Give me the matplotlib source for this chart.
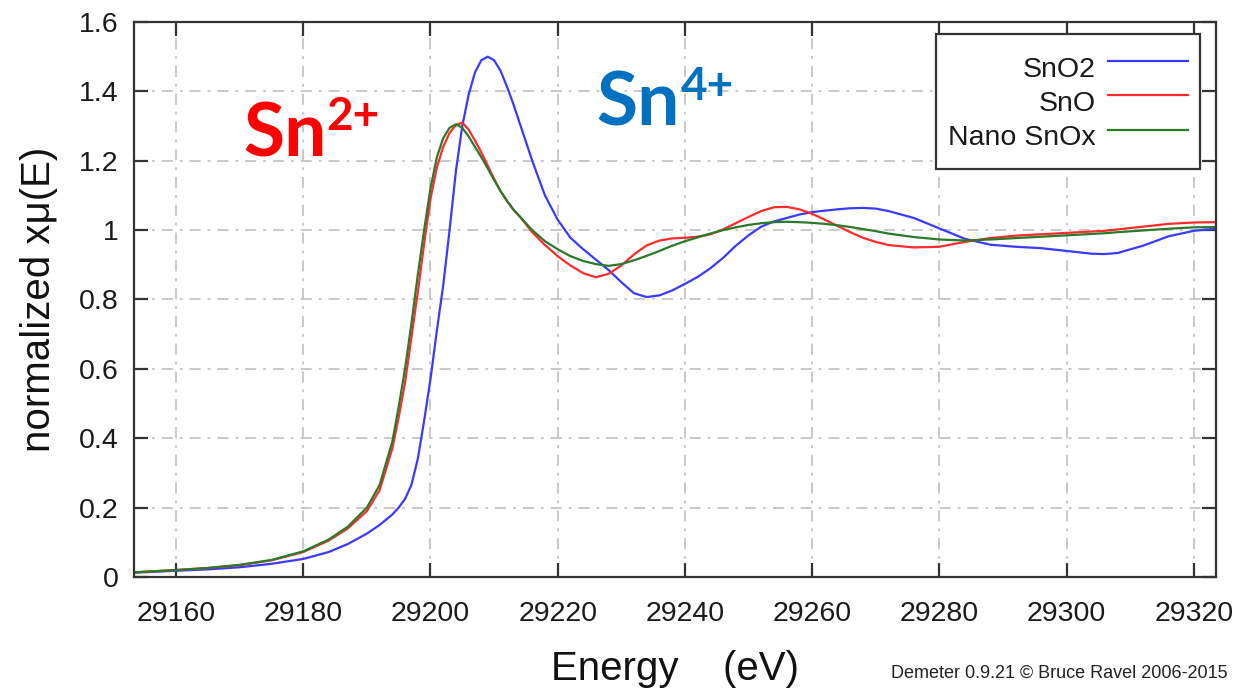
import matplotlib
matplotlib.use("Agg")
import matplotlib.pyplot as plt

# Sn K-edge XANES, normalized absorption
energy = [29153, 29160, 29165, 29170, 29175, 29180, 29184, 29187, 29190, 29192,
          29194, 29195, 29196, 29197, 29198, 29199, 29200, 29201, 29202, 29203,
          29204, 29205, 29206, 29207, 29208, 29209, 29210, 29211, 29212, 29213,
          29214, 29216, 29218, 29220, 29222, 29224, 29226, 29228, 29230, 29232,
          29234, 29236, 29238, 29240, 29242, 29244, 29246, 29248, 29250, 29252,
          29254, 29256, 29258, 29260, 29262, 29264, 29266, 29268, 29270, 29272,
          29276, 29280, 29284, 29288, 29292, 29296, 29300, 29304, 29306, 29308,
          29312, 29316, 29320, 29324]

sno2 = [0.012, 0.018, 0.022, 0.028, 0.038, 0.052, 0.072, 0.095, 0.125, 0.15,
        0.18, 0.2, 0.225, 0.265, 0.34, 0.45, 0.57, 0.71, 0.84, 1.0,
        1.17, 1.30, 1.39, 1.455, 1.49, 1.50, 1.49, 1.46, 1.415, 1.365,
        1.31, 1.20, 1.10, 1.03, 0.978, 0.945, 0.915, 0.885, 0.85, 0.818,
        0.807, 0.812, 0.826, 0.845, 0.865, 0.89, 0.92, 0.955, 0.985, 1.01,
        1.025, 1.035, 1.045, 1.052, 1.056, 1.06, 1.063, 1.064, 1.062, 1.055,
        1.035, 1.005, 0.975, 0.958, 0.952, 0.948, 0.94, 0.932, 0.931, 0.934,
        0.955, 0.982, 0.998, 1.005]

sno = [0.013, 0.02, 0.026, 0.034, 0.048, 0.072, 0.105, 0.14, 0.19, 0.25,
       0.37, 0.46, 0.56, 0.69, 0.82, 0.96, 1.09, 1.18, 1.24, 1.28,
       1.303, 1.31, 1.29, 1.258, 1.224, 1.186, 1.148, 1.113, 1.085, 1.06,
       1.04, 0.994, 0.957, 0.925, 0.898, 0.876, 0.864, 0.874, 0.898, 0.93,
       0.956, 0.97, 0.976, 0.978, 0.981, 0.988, 1.002, 1.02, 1.038, 1.055,
       1.066, 1.067, 1.06, 1.047, 1.03, 1.012, 0.994, 0.978, 0.966, 0.957,
       0.95, 0.952, 0.966, 0.977, 0.984, 0.988, 0.992, 0.996, 0.998, 1.002,
       1.01, 1.018, 1.022, 1.023]

nano_snox = [0.013, 0.02, 0.026, 0.035, 0.049, 0.074, 0.108, 0.145, 0.2, 0.265,
             0.39, 0.49, 0.6, 0.73, 0.87, 1.0, 1.12, 1.21, 1.265, 1.295,
             1.305, 1.295, 1.27, 1.24, 1.21, 1.178, 1.145, 1.113, 1.085, 1.06,
             1.04, 1.0, 0.968, 0.945, 0.925, 0.911, 0.902, 0.897, 0.902, 0.913,
             0.926, 0.94, 0.955, 0.968, 0.979, 0.99, 1.0, 1.008, 1.015, 1.02,
             1.023, 1.024, 1.023, 1.021, 1.018, 1.014, 1.009, 1.003, 0.997, 0.99,
             0.98, 0.973, 0.97, 0.973, 0.977, 0.981, 0.985, 0.989, 0.991, 0.994,
             0.999, 1.004, 1.008, 1.009]

series_names = ["SnO2", "SnO", "Nano SnOx"]
series_colors = ["#3a3aff", "#ff2a2a", "#2a7a2a"]

xticks = [29160, 29180, 29200, 29220, 29240, 29260, 29280, 29300, 29320]
yticks = [0, 0.2, 0.4, 0.6, 0.8, 1.0, 1.2, 1.4, 1.6]
ytick_labels = ["0", "0.2", "0.4", "0.6", "0.8", "1", "1.2", "1.4", "1.6"]

plt.rcParams["font.family"] = ["Liberation Sans", "DejaVu Sans"]
plt.rcParams["lines.scale_dashes"] = False

fig = plt.figure(figsize=(12.4, 6.92), dpi=100)
ax = fig.add_axes([0.1081, 0.1662, 0.8726, 0.8020])

for vals, name, col in zip([sno2, sno, nano_snox], series_names, series_colors):
    ax.plot(energy, vals, color=col, linewidth=1.6, label=name)

ax.set_xlim(29153.4, 29323.5)
ax.set_ylim(0, 1.6)
ax.set_xticks(xticks)
ax.set_xticklabels([str(t) for t in xticks])
ax.set_yticks(yticks)
ax.set_yticklabels(ytick_labels)

ax.grid(True, color="#c4c4c4", linewidth=1.3, linestyle=(0, (8, 5, 2, 5)))
ax.set_axisbelow(True)

for sp in ax.spines.values():
    sp.set_color("#333333")
    sp.set_linewidth(1.6)

ax.tick_params(axis="both", direction="in", length=10, width=1.6, color="#333333",
               labelsize=20.5, labelcolor="#1a1a1a", top=True, right=True)
ax.tick_params(axis="x", pad=17)
ax.tick_params(axis="y", pad=11)

ax.set_xlabel("Energy    (eV)", fontsize=29, color="#111111")
ax.xaxis.set_label_coords(0.5, -0.132)
ax.set_ylabel("normalized x\u03bc(E)", fontsize=29, color="#111111")
ax.yaxis.set_label_coords(-0.07, 0.5)

# taller handle boxes give the roomier rows of the gnuplot key
leg = ax.legend(loc="upper right", bbox_to_anchor=(0.9852, 0.9784), borderaxespad=0,
                markerfirst=False, fontsize=20.5, handlelength=2.8, handletextpad=0.45,
                handleheight=1.96, labelspacing=-0.32, borderpad=0.42,
                fancybox=False, framealpha=1)
leg.get_frame().set_edgecolor("#333333")
leg.get_frame().set_linewidth(1.6)
for t in leg.get_texts():
    t.set_color("#1a1a1a")

# oxidation state labels
big = dict(family="Lato", fontweight="bold", fontsize=54)
sup = dict(family="Lato", fontweight="bold", fontsize=33)
ax.text(29170.6, 1.211, "Sn", color="#ff0000", va="baseline", **big)
ax.text(29183.6, 1.289, "2+", color="#ff0000", va="baseline", **sup)
ax.text(29226.0, 1.303, "Sn", color="#0070c0", va="baseline", **big)
ax.text(29239.3, 1.375, "4+", color="#0070c0", va="baseline", **sup)

fig.text(0.990, 0.0275, "Demeter 0.9.21 \u00a9 Bruce Ravel 2006-2015", ha="right",
         va="center", fontsize=13, color="#222222")

fig.savefig("out.png", dpi=100)
